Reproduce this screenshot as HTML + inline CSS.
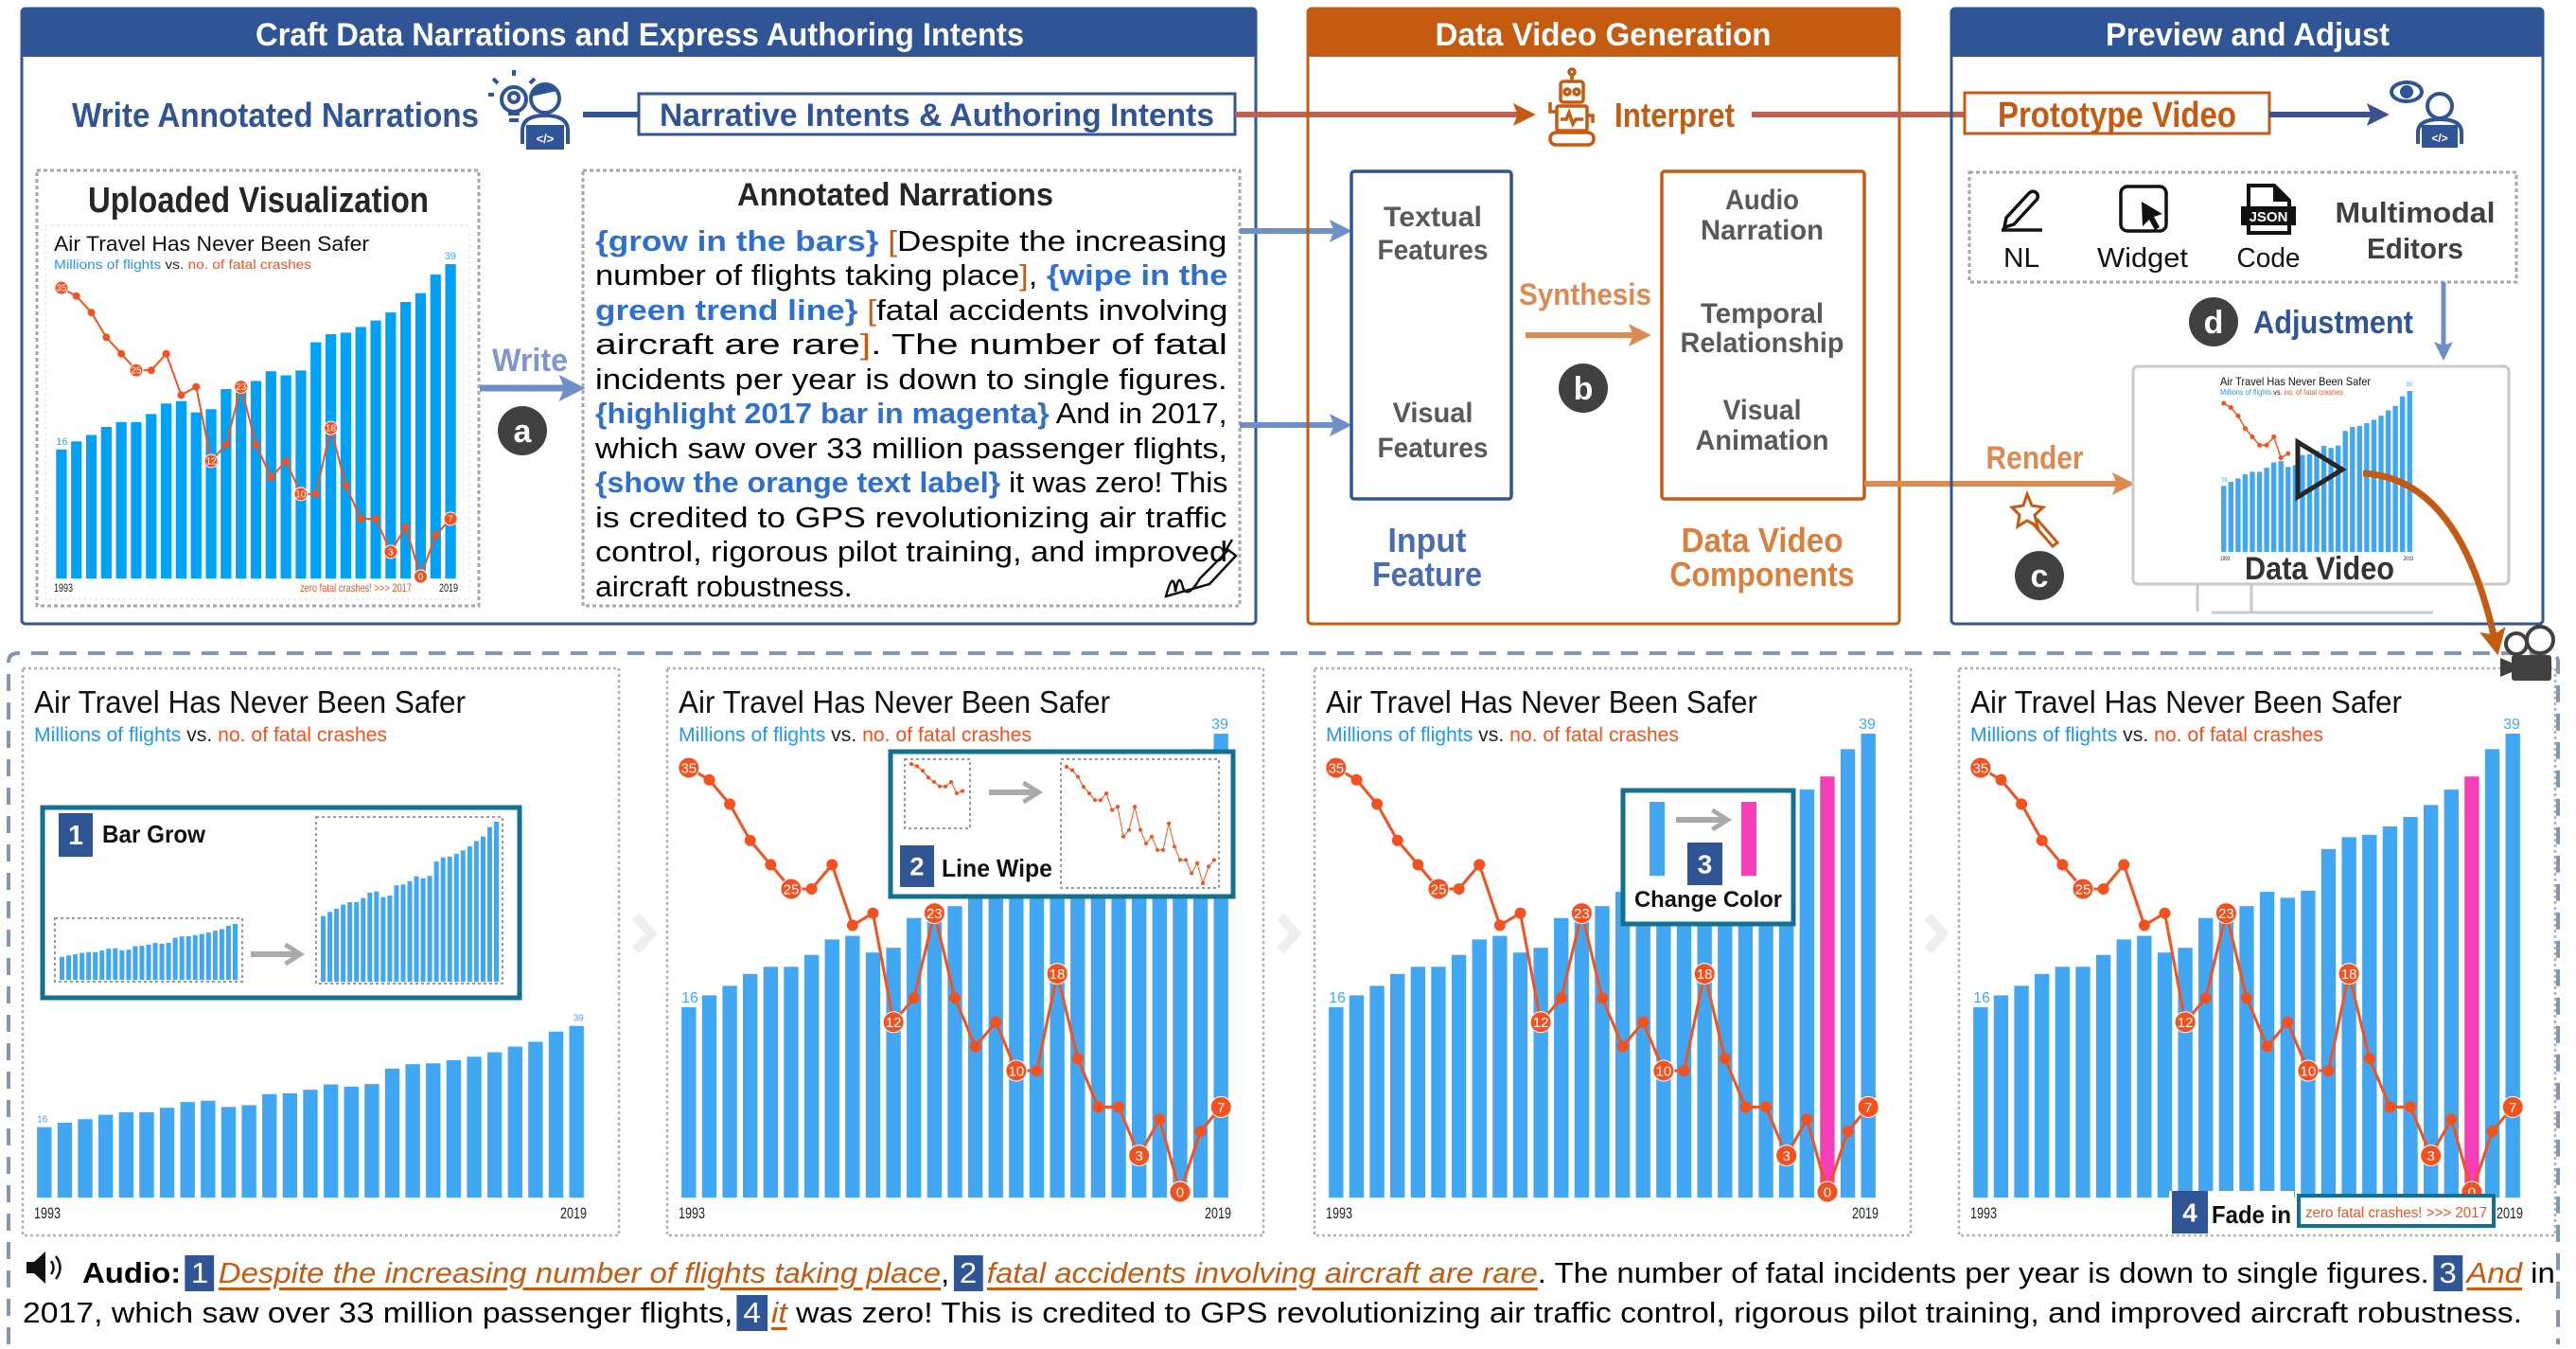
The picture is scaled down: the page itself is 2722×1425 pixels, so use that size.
<!DOCTYPE html>
<html><head><meta charset="utf-8">
<style>
html,body{margin:0;padding:0;background:#fff;}
#root{position:relative;width:2722px;height:1425px;overflow:hidden;font-family:"Liberation Sans",sans-serif;}
svg{position:absolute;left:0;top:0;}
.fit{position:absolute;white-space:nowrap;transform-origin:0 0;line-height:1;font-family:"Liberation Sans",sans-serif;}
.b{color:#2e6fd0;font-weight:bold;}
.o{color:#c55a11;}
.au{color:#c55a11;font-style:italic;text-decoration:underline;text-decoration-thickness:3px;text-underline-offset:5px;}
.bd{display:inline-block;background:#2f5597;color:#fff;padding:0 6px;line-height:38px;margin:0 4px;}
</style></head>
<body>
<div id="root">
<svg id="svg" width="2722" height="1425" viewBox="0 0 2722 1425">
<defs>
<marker id="ab" markerWidth="4" markerHeight="4" refX="2.2" refY="2" orient="auto" markerUnits="strokeWidth"><path d="M0,0 L4,2 L0,4 L0.8,2 Z" fill="#6f8fc8"/></marker>
<marker id="ad" markerWidth="4" markerHeight="4" refX="2.2" refY="2" orient="auto" markerUnits="strokeWidth"><path d="M0,0 L4,2 L0,4 L0.8,2 Z" fill="#3c4f8f"/></marker>
<marker id="ao" markerWidth="4" markerHeight="4" refX="2.2" refY="2" orient="auto" markerUnits="strokeWidth"><path d="M0,0 L4,2 L0,4 L0.8,2 Z" fill="#c55a11"/></marker>
<marker id="al" markerWidth="4" markerHeight="4" refX="2.2" refY="2" orient="auto" markerUnits="strokeWidth"><path d="M0,0 L4,2 L0,4 L0.8,2 Z" fill="#dd8a50"/></marker>
<marker id="ag" markerWidth="4" markerHeight="4" refX="2.6" refY="2" orient="auto" markerUnits="strokeWidth"><path d="M0.5,0.3 L3.2,2 L0.5,3.7" fill="none" stroke="#aaa" stroke-width="0.8"/></marker>
</defs>

<g>
<rect x="23" y="9" width="1304" height="650" rx="4" fill="#fff" stroke="#2f5597" stroke-width="3"/>
<rect x="23" y="9" width="1304" height="51" rx="3" fill="#2f5597"/>
<text x="676" y="48" text-anchor="middle" font-size="34" font-weight="bold" fill="#fff" textLength="812" lengthAdjust="spacingAndGlyphs">Craft Data Narrations and Express Authoring Intents</text>
<text x="76" y="134" font-size="36" font-weight="bold" fill="#2f5597" textLength="430" lengthAdjust="spacingAndGlyphs">Write Annotated Narrations</text>
<g fill="none" stroke="#2f5597" stroke-width="4">
<circle cx="543" cy="105" r="13"/><circle cx="543" cy="103" r="5"/><path d="M537,120 h12 M538,127 h10"/>
<path d="M522,100 h-6 M543,80 v-6 M560,88 l5,-5 M526,88 l-5,-5"/>
<circle cx="576" cy="104" r="15" fill="#fff"/><path d="M561,102 q8,-18 28,-6" fill="#2f5597"/>
<path d="M552,152 v-14 q0,-16 24,-16 q24,0 24,16 v14"/>
<rect x="556" y="132" width="40" height="26" fill="#2f5597" stroke="none"/>
<text x="576" y="151" font-size="13" fill="#fff" stroke="none" text-anchor="middle" font-weight="bold">&lt;/&gt;</text>
</g>
<line x1="616" y1="121" x2="675" y2="121" stroke="#2f5597" stroke-width="6"/>
<rect x="675" y="99" width="630" height="43" fill="#fff" stroke="#2f5597" stroke-width="3"/>
<text x="990" y="133" text-anchor="middle" font-size="34" font-weight="bold" fill="#2f5597" textLength="586" lengthAdjust="spacingAndGlyphs">Narrative Intents &amp; Authoring Intents</text>
<line x1="1305" y1="121" x2="1612" y2="121" stroke="#c0614f" stroke-width="6" marker-end="url(#ao)"/>
<rect x="39" y="180" width="467" height="460" fill="none" stroke="#a6a6a6" stroke-width="3" stroke-dasharray="4 3"/>
<text x="273" y="224" text-anchor="middle" font-size="38" font-weight="bold" fill="#262626" textLength="360" lengthAdjust="spacingAndGlyphs">Uploaded Visualization</text>
<rect x="48" y="238" width="448" height="395" fill="none" stroke="#eee" stroke-width="2" stroke-dasharray="3 3"/>
<g id="chartTop"></g>
<text x="560" y="392" text-anchor="middle" font-size="34" font-weight="bold" fill="#7f96c8" textLength="80" lengthAdjust="spacingAndGlyphs">Write</text>
<line x1="507" y1="410" x2="606" y2="410" stroke="#6f8fc8" stroke-width="7" marker-end="url(#ab)"/>
<circle cx="552" cy="455" r="26" fill="#404040"/>
<text x="552" y="467" text-anchor="middle" font-size="34" font-weight="bold" fill="#fff">a</text>
<rect x="616" y="180" width="694" height="460" fill="none" stroke="#a6a6a6" stroke-width="3" stroke-dasharray="4 3"/>
<text x="946" y="217" text-anchor="middle" font-size="34" font-weight="bold" fill="#262626" textLength="334" lengthAdjust="spacingAndGlyphs">Annotated Narrations</text>
<g fill="none" stroke="#111" stroke-width="2.5">
<path d="M1232,630 q8,-30 10,-5 q4,-22 8,-4 q5,12 18,-10 l30,-30 l8,6 l-28,30 z M1290,590 l12,-20"/>
</g>
<line x1="1310" y1="244" x2="1418" y2="244" stroke="#6f8fc8" stroke-width="6" marker-end="url(#ab)"/>
<line x1="1310" y1="449" x2="1418" y2="449" stroke="#6f8fc8" stroke-width="6" marker-end="url(#ab)"/>
</g>

<g>
<rect x="1382" y="9" width="625" height="650" rx="4" fill="none" stroke="#c55a11" stroke-width="3"/>
<rect x="1382" y="9" width="625" height="51" rx="3" fill="#c55a11"/>
<text x="1694" y="48" text-anchor="middle" font-size="34" font-weight="bold" fill="#fff" textLength="355" lengthAdjust="spacingAndGlyphs">Data Video Generation</text>
<g fill="none" stroke="#c55a11" stroke-width="3.5">
<rect x="1649" y="86" width="24" height="22" rx="3"/><circle cx="1656" cy="97" r="3"/><circle cx="1666" cy="97" r="3"/><path d="M1661,86 v-8"/><circle cx="1661" cy="76" r="3"/>
<rect x="1645" y="112" width="32" height="26" rx="2"/><path d="M1649,126 h6 l3,-7 l4,12 l3,-5 h8"/>
<path d="M1645,118 h-7 v-10 M1677,122 h6 v8"/>
<rect x="1638" y="140" width="46" height="13" rx="6"/>
</g>
<text x="1706" y="134" font-size="36" font-weight="bold" fill="#c55a11" textLength="127" lengthAdjust="spacingAndGlyphs">Interpret</text>
<line x1="1851" y1="121" x2="2075" y2="121" stroke="#c0614f" stroke-width="6"/>
<rect x="1428" y="181" width="169" height="346" rx="3" fill="none" stroke="#2f5597" stroke-width="3.5"/>
<g font-weight="bold" fill="#595959" font-size="30" text-anchor="middle">
<text x="1514" y="239" textLength="104" lengthAdjust="spacingAndGlyphs">Textual</text>
<text x="1514" y="274" textLength="117" lengthAdjust="spacingAndGlyphs">Features</text>
<text x="1514" y="446" textLength="85" lengthAdjust="spacingAndGlyphs">Visual</text>
<text x="1514" y="483" textLength="117" lengthAdjust="spacingAndGlyphs">Features</text>
<text x="1862" y="221" textLength="78" lengthAdjust="spacingAndGlyphs">Audio</text>
<text x="1862" y="253" textLength="130" lengthAdjust="spacingAndGlyphs">Narration</text>
<text x="1862" y="341" textLength="130" lengthAdjust="spacingAndGlyphs">Temporal</text>
<text x="1862" y="372" textLength="173" lengthAdjust="spacingAndGlyphs">Relationship</text>
<text x="1862" y="443" textLength="83" lengthAdjust="spacingAndGlyphs">Visual</text>
<text x="1862" y="475" textLength="141" lengthAdjust="spacingAndGlyphs">Animation</text>
</g>
<text x="1675" y="322" text-anchor="middle" font-size="32" font-weight="bold" fill="#dd8a50" textLength="140" lengthAdjust="spacingAndGlyphs">Synthesis</text>
<line x1="1612" y1="354" x2="1734" y2="354" stroke="#dd8a50" stroke-width="6" marker-end="url(#al)"/>
<circle cx="1673" cy="410" r="26" fill="#404040"/>
<text x="1673" y="422" text-anchor="middle" font-size="34" font-weight="bold" fill="#fff">b</text>
<rect x="1756" y="181" width="214" height="346" rx="3" fill="none" stroke="#c55a11" stroke-width="3.5"/>
<text x="1508" y="583" text-anchor="middle" font-size="36" font-weight="bold" fill="#4a6cb0" textLength="83" lengthAdjust="spacingAndGlyphs">Input</text>
<text x="1508" y="619" text-anchor="middle" font-size="36" font-weight="bold" fill="#4a6cb0" textLength="116" lengthAdjust="spacingAndGlyphs">Feature</text>
<text x="1862" y="583" text-anchor="middle" font-size="36" font-weight="bold" fill="#d9803f" textLength="171" lengthAdjust="spacingAndGlyphs">Data Video</text>
<text x="1862" y="619" text-anchor="middle" font-size="36" font-weight="bold" fill="#d9803f" textLength="195" lengthAdjust="spacingAndGlyphs">Components</text>
<line x1="1970" y1="511" x2="2245" y2="511" stroke="#dd8a50" stroke-width="6" marker-end="url(#al)"/>
</g>

<g>
<rect x="2062" y="9" width="625" height="650" rx="4" fill="none" stroke="#2f5597" stroke-width="3"/>
<rect x="2062" y="9" width="625" height="51" rx="3" fill="#2f5597"/>
<text x="2375" y="48" text-anchor="middle" font-size="34" font-weight="bold" fill="#fff" textLength="300" lengthAdjust="spacingAndGlyphs">Preview and Adjust</text>
<rect x="2076" y="98" width="322" height="43" fill="#fff" stroke="#c55a11" stroke-width="3"/>
<text x="2237" y="134" text-anchor="middle" font-size="38" font-weight="bold" fill="#c55a11" textLength="252" lengthAdjust="spacingAndGlyphs">Prototype Video</text>
<line x1="2398" y1="121" x2="2514" y2="121" stroke="#3c4f8f" stroke-width="6" marker-end="url(#ad)"/>
<g fill="none" stroke="#2f5597" stroke-width="4">
<ellipse cx="2543" cy="97" rx="16" ry="10"/><circle cx="2543" cy="97" r="5" fill="#2f5597"/>
<circle cx="2578" cy="112" r="13"/><path d="M2555,152 v-12 q0,-14 23,-14 q23,0 23,14 v12"/>
<rect x="2559" y="132" width="38" height="24" fill="#2f5597" stroke="none"/>
<text x="2578" y="150" font-size="12" fill="#fff" stroke="none" text-anchor="middle" font-weight="bold">&lt;/&gt;</text>
</g>
<rect x="2081" y="182" width="578" height="116" fill="none" stroke="#a6a6a6" stroke-width="3" stroke-dasharray="4 3"/>
<g fill="none" stroke="#111" stroke-width="3.5">
<path d="M2120,230 l24,-26 a5,5 0 0 1 8,7 l-24,26 l-10,3 z"/><line x1="2115" y1="243" x2="2158" y2="243"/>
</g>
<g>
<rect x="2241" y="197" width="48" height="47" rx="7" fill="none" stroke="#111" stroke-width="3.5"/>
<path d="M2263,213 l22,13 l-9,3 l6,11 l-5,3 l-6,-11 l-7,7 z" fill="#111"/>
</g>
<g>
<path d="M2374,194 h30 l17,17 v37 h-47 z" fill="#111"/><path d="M2378,198 h24 v15 h15 v31 h-39z" fill="#fff"/>
<rect x="2368" y="218" width="58" height="20" fill="#111"/>
<text x="2397" y="234" text-anchor="middle" font-size="15" font-weight="bold" fill="#fff">JSON</text>
</g>
<g font-size="29" fill="#111" text-anchor="middle">
<text x="2136" y="282" textLength="38" lengthAdjust="spacingAndGlyphs">NL</text>
<text x="2264" y="282" textLength="96" lengthAdjust="spacingAndGlyphs">Widget</text>
<text x="2397" y="282" textLength="67" lengthAdjust="spacingAndGlyphs">Code</text>
</g>
<text x="2552" y="235" text-anchor="middle" font-size="31" font-weight="bold" fill="#404040" textLength="169" lengthAdjust="spacingAndGlyphs">Multimodal</text>
<text x="2552" y="273" text-anchor="middle" font-size="31" font-weight="bold" fill="#404040" textLength="102" lengthAdjust="spacingAndGlyphs">Editors</text>
<line x1="2582" y1="298" x2="2582" y2="372" stroke="#6f8fc8" stroke-width="5" marker-end="url(#ab)"/>
<circle cx="2339" cy="340" r="26" fill="#404040"/>
<text x="2339" y="352" text-anchor="middle" font-size="34" font-weight="bold" fill="#fff">d</text>
<text x="2381" y="352" font-size="34" font-weight="bold" fill="#2f5597" textLength="169" lengthAdjust="spacingAndGlyphs">Adjustment</text>
<text x="2150" y="495" text-anchor="middle" font-size="34" font-weight="bold" fill="#dd8a50" textLength="103" lengthAdjust="spacingAndGlyphs">Render</text>
<g fill="none" stroke="#c55a11" stroke-width="3">
<path d="M2142,522 l5,12 l12,2 l-9,8 l3,12 l-11,-6 l-10,6 l2,-12 l-8,-8 l12,-2 z"/><path d="M2152,548 l22,25 l-5,4 l-22,-25"/>
</g>
<circle cx="2155" cy="608" r="26" fill="#404040"/>
<text x="2155" y="620" text-anchor="middle" font-size="34" font-weight="bold" fill="#fff">c</text>
<rect x="2254" y="387" width="397" height="230" rx="5" fill="#fff" stroke="#c8c8c8" stroke-width="3"/>
<line x1="2322" y1="617" x2="2322" y2="646" stroke="#c8c8c8" stroke-width="3"/>
<line x1="2379" y1="617" x2="2379" y2="646" stroke="#c8c8c8" stroke-width="3"/>
<line x1="2337" y1="647" x2="2571" y2="647" stroke="#c8c8c8" stroke-width="3"/>
<g id="chartMini"></g>
<path d="M2428,467 L2428,525 L2475,496 Z" fill="none" stroke="#262626" stroke-width="5"/>
<text x="2451" y="612" text-anchor="middle" font-size="34" font-weight="bold" fill="#333" textLength="158" lengthAdjust="spacingAndGlyphs">Data Video</text>
</g>

<path d="M9,1420 V700 Q9,690 19,690 H2693 Q2703,690 2703,700 V1420" fill="none" stroke="#8496b0" stroke-width="4" stroke-dasharray="18 12"/>
<g id="panels"></g>
<path d="M2497,500 Q2600,505 2637,680" fill="none" stroke="#c55a11" stroke-width="7" marker-end="url(#ao)"/>
<g fill="#404040">
<circle cx="2659" cy="680" r="11" fill="#fff" stroke="#404040" stroke-width="4"/><circle cx="2684" cy="676" r="14" fill="#fff" stroke="#404040" stroke-width="4"/>
<rect x="2654" y="692" width="42" height="27" rx="3"/><path d="M2654,700 l-12,-5 v20 l12,-5 z"/>
</g>
<g>
<path d="M28,1333 h8 l12,-11 v34 l-12,-11 h-8 z" fill="#111"/>
<path d="M54,1332 q5,7 0,14 M59,1327 q9,12 0,24" fill="none" stroke="#111" stroke-width="2.5"/>
</g>
</svg>

<div class="fit" data-w="668" style="left:629px;top:239px;font-size:31px"><span class="b">{grow in the bars}</span> <span class="o">[</span>Despite the increasing</div>
<div class="fit" data-w="668" style="left:629px;top:275px;font-size:31px">number of flights taking place<span class="o">]</span>, <span class="b">{wipe in the</span></div>
<div class="fit" data-w="668" style="left:629px;top:312px;font-size:31px"><span class="b">green trend line}</span> <span class="o">[</span>fatal accidents involving</div>
<div class="fit" data-w="668" style="left:629px;top:348px;font-size:31px">aircraft are rare<span class="o">]</span>. The number of fatal</div>
<div class="fit" data-w="668" style="left:629px;top:385px;font-size:31px">incidents per year is down to single figures.</div>
<div class="fit" data-w="668" style="left:629px;top:421px;font-size:31px"><span class="b">{highlight 2017 bar in magenta}</span> And in 2017,</div>
<div class="fit" data-w="668" style="left:629px;top:458px;font-size:31px">which saw over 33 million passenger flights,</div>
<div class="fit" data-w="668" style="left:629px;top:494px;font-size:31px"><span class="b">{show the orange text label}</span> it was zero! This</div>
<div class="fit" data-w="668" style="left:629px;top:531px;font-size:31px">is credited to GPS revolutionizing air traffic</div>
<div class="fit" data-w="668" style="left:629px;top:567px;font-size:31px">control, rigorous pilot training, and improved</div>
<div class="fit" data-w="272" style="left:629px;top:604px;font-size:31px">aircraft robustness.</div>

<div class="fit" data-w="2613" style="left:87px;top:1326px;font-size:31px"><b>Audio:</b><span class="bd">1</span><span class="au">Despite the increasing number of flights taking place</span>,<span class="bd">2</span><span class="au">fatal accidents involving aircraft are rare</span>. The number of fatal incidents per year is down to single figures.<span class="bd">3</span><span class="au">And</span> in</div>
<div class="fit" data-w="2641" style="left:24px;top:1368px;font-size:31px">2017, which saw over 33 million passenger flights,<span class="bd">4</span><span class="au">it</span> was zero! This is credited to GPS revolutionizing air traffic control, rigorous pilot training, and improved aircraft robustness.</div>
</div>

<script>
const years = [1993,1994,1995,1996,1997,1998,1999,2000,2001,2002,2003,2004,2005,2006,2007,2008,2009,2010,2011,2012,2013,2014,2015,2016,2017,2018,2019];
const flights = [16,17,17.8,18.8,19.4,19.4,20.4,21.7,22,20.6,21,23.5,23.7,24.5,25.7,25.2,25.8,29.3,30.3,30.5,31.2,32,33,34.3,35.4,37.7,39];
const crashes = [35,34,32,29,27,25,25,27,22,23,14,16,23,16,12,14,10,10,18,11,7,7,3,6,0,5,7];
const crashLabels = ["35","","","","","25","","","","","12","","23","","","","10","","18","","","","3","","0","","7"];
const flightMax = 39;
const crashMax = 35;
const highlightYear = 2017;

const NS = "http://www.w3.org/2000/svg";
function mk(tag, parent, attrs, txt) {
  const e = document.createElementNS(NS, tag);
  for (const k in attrs) e.setAttribute(k, attrs[k]);
  if (txt !== undefined) e.textContent = txt;
  parent.appendChild(e);
  return e;
}

function drawChart(g, p) {
  const n = years.length;
  const pitch = (p.R - p.L) / n;
  const bw = pitch * 0.71;
  const xb = i => p.L + i * pitch + (pitch - bw) / 2;
  const yBar = v => p.B - (v / flightMax) * (p.B - p.T39) * (p.grow || 1);
  const yLine = v => p.Y0 - (v / crashMax) * (p.Y0 - p.Y35);
  if (p.title) {
    const t = mk("text", g, {x: p.L, y: p.title[0], "font-size": p.title[1], fill: "#111", textLength: p.title[2], lengthAdjust: "spacingAndGlyphs"}, "Air Travel Has Never Been Safer");
    
    
    const s = mk("text", g, {x: p.L, y: p.sub[0], "font-size": p.sub[1], textLength: p.sub[2], lengthAdjust: "spacingAndGlyphs"});
    
    
    mk("tspan", s, {fill: "#2196f3"}, "Millions of flights");
    mk("tspan", s, {fill: "#222"}, " vs. ");
    mk("tspan", s, {fill: "#f4511e"}, "no. of fatal crashes");
  }
  if (p.bars !== false) {
    for (let i = 0; i < n; i++) {
      const y = yBar(flights[i]);
      const hl = p.highlight && years[i] === highlightYear;
      const r = mk("rect", g, {x: xb(i), y: y, width: bw, height: p.B - y, fill: hl ? "#f43fb8" : (p.barColor || "#42a7f3")});
      
      
    }
    if (p.valFs) {
      const a = mk("text", g, {x: xb(0), y: yBar(flights[0]) - 5, "font-size": p.valFs, fill: "#42a7f3"}, String(flights[0]));
      
      
      const b = mk("text", g, {x: xb(n - 1) + bw, y: yBar(flights[n - 1]) - 5, "font-size": p.valFs, fill: "#42a7f3", "text-anchor": "end"}, String(flights[n - 1]));
      
      
    }
  }
  if (p.line) {
    const cnt = Math.min(p.line, n);
    let d = "";
    for (let i = 0; i < cnt; i++) d += (i ? "L" : "M") + (xb(i) + bw / 2) + "," + yLine(crashes[i]);
    const pl = mk("path", g, {d: d, fill: "none", stroke: "#f4511e", "stroke-width": p.sw});
    
    
    for (let i = 0; i < cnt; i++) {
      const lab = p.labFs && crashLabels[i];
      const c = mk("circle", g, {cx: xb(i) + bw / 2, cy: yLine(crashes[i]), r: lab ? p.labR : p.dotR, fill: "#f4511e", stroke: "#fff", "stroke-width": lab ? 1 : 0});
      
      
      if (lab) {
        const tl = mk("text", g, {x: xb(i) + bw / 2, y: yLine(crashes[i]) + p.labFs * 0.36, "font-size": p.labFs, fill: "#fff", "text-anchor": "middle"}, crashLabels[i]);
        
        
      }
    }
  }
  if (p.yearY) {
    const yl = p.yearLen || p.yearFs * 1.75;
    const y1 = mk("text", g, {x: p.L, y: p.yearY, "font-size": p.yearFs, fill: "#222", textLength: yl, lengthAdjust: "spacingAndGlyphs"}, String(years[0]));
    
    
    const y2 = mk("text", g, {x: p.R - yl, y: p.yearY, "font-size": p.yearFs, fill: "#222", textLength: yl, lengthAdjust: "spacingAndGlyphs"}, String(years[n - 1]));
    
    
  }
}

const gTop = document.getElementById("chartTop");
drawChart(gTop, {L: 57, R: 484, B: 611, T39: 279, Y35: 304, Y0: 609, title: [265, 22, 333], sub: [284, 14, 272], barColor: "#00a2f5", line: 27, sw: 2, dotR: 4, labR: 7, labFs: 10, valFs: 11, yearY: 625, yearFs: 12, yearLen: 20});
const zt = mk("text", gTop, {x: 317, y: 625, "font-size": 12, fill: "#f4511e", textLength: 118, lengthAdjust: "spacingAndGlyphs"}, "zero fatal crashes! >>> 2017");



drawChart(document.getElementById("chartMini"), {L: 2346, R: 2550, B: 583, T39: 413, Y35: 426, Y0: 581, title: [407, 12, 159], sub: [417, 8, 130], line: 10, sw: 1.5, dotR: 2.5, labR: 4, yearY: 592, yearFs: 6, valFs: 6});

const panelsG = document.getElementById("panels");
const panelX = [24, 705, 1389, 2070];
const PY = 706;
for (let k = 0; k < 4; k++) {
  const px = panelX[k];
  const g = mk("g", panelsG, {});
  
  
  mk("rect", g, {x: px, y: PY, width: 630, height: 599, fill: "#fff", stroke: "#b0b0b0", "stroke-width": 2.5, "stroke-dasharray": "3 3"});
  const full = {L: px + 12, R: px + 596, B: PY + 559, T39: PY + 69, Y35: PY + 105, Y0: PY + 553, title: [PY + 47, 33, 456], sub: [PY + 77, 21, 373], sw: 3, dotR: 6, labR: 11, labFs: 15, valFs: 16, yearY: PY + 581, yearFs: 17, yearLen: 28};
  if (k === 0) { full.grow = 0.37; full.line = 0; full.valFs = 10; }
  else { full.line = 27; full.highlight = k >= 2; }
  drawChart(g, full);
  if (k < 3) {
    const ch = mk("path", panelsG, {d: "M" + (px + 648) + ",968 l16,18 l-16,18", fill: "none", stroke: "#eeeeee", "stroke-width": 10});
    
    
  }
}

function badge(parent, x, y, w, h, num, name) {
  const r = mk("rect", parent, {x: x, y: y, width: w, height: h, fill: "#2f5597"});
  
  
  mk("text", parent, {x: x + w / 2, y: y + h * 0.72, "font-size": h * 0.62, "font-weight": "bold", fill: "#fff", "text-anchor": "middle"}, num);
}
function arrowG(parent, x1, x2, y) {
  const a = mk("line", parent, {x1: x1, y1: y, x2: x2, y2: y, stroke: "#aaa", "stroke-width": 6, "marker-end": "url(#ag)"});
  
  
}

const in1 = mk("g", panelsG, {});


mk("rect", in1, {x: 45, y: 853, width: 504, height: 201, fill: "#fff", stroke: "#14708f", "stroke-width": 5});
badge(in1, 62, 859, 36, 46, "1", "step-1-badge");
mk("text", in1, {x: 108, y: 890, "font-size": 26, "font-weight": "bold", fill: "#111", textLength: 109, lengthAdjust: "spacingAndGlyphs"}, "Bar Grow");
mk("rect", in1, {x: 58, y: 970, width: 198, height: 67, fill: "none", stroke: "#999", "stroke-width": 2, "stroke-dasharray": "3 3"});
drawChart(in1, {L: 62, R: 252, B: 1035, T39: 976, bars: true});
arrowG(in1, 265, 314, 1008);
mk("rect", in1, {x: 334, y: 863, width: 197, height: 176, fill: "none", stroke: "#999", "stroke-width": 2, "stroke-dasharray": "3 3"});
drawChart(in1, {L: 338, R: 528, B: 1037, T39: 868});

const in2 = mk("g", panelsG, {});


mk("rect", in2, {x: 941, y: 794, width: 362, height: 153, fill: "#fff", stroke: "#14708f", "stroke-width": 5});
mk("rect", in2, {x: 956, y: 802, width: 69, height: 73, fill: "none", stroke: "#999", "stroke-width": 2, "stroke-dasharray": "3 3"});
drawChart(in2, {L: 960, R: 1122, Y35: 807, Y0: 890, bars: false, line: 10, sw: 1, dotR: 2});
arrowG(in2, 1045, 1094, 837);
mk("rect", in2, {x: 1121, y: 802, width: 167, height: 136, fill: "none", stroke: "#999", "stroke-width": 2, "stroke-dasharray": "3 3"});
drawChart(in2, {L: 1124, R: 1286, Y35: 810, Y0: 933, bars: false, line: 27, sw: 1, dotR: 2});
badge(in2, 951, 893, 36, 44, "2", "step-2-badge");
mk("text", in2, {x: 995, y: 926, "font-size": 26, "font-weight": "bold", fill: "#111", textLength: 117, lengthAdjust: "spacingAndGlyphs"}, "Line Wipe");

const in3 = mk("g", panelsG, {});


mk("rect", in3, {x: 1715, y: 835, width: 180, height: 141, fill: "#fff", stroke: "#14708f", "stroke-width": 5});
mk("rect", in3, {x: 1743, y: 847, width: 16, height: 78, fill: "#42a7f3"});
mk("rect", in3, {x: 1840, y: 847, width: 16, height: 78, fill: "#f43fb8"});
arrowG(in3, 1771, 1822, 866);
badge(in3, 1783, 890, 37, 45, "3", "step-3-badge");
mk("text", in3, {x: 1805, y: 958, "font-size": 24, "font-weight": "bold", fill: "#111", "text-anchor": "middle", textLength: 156, lengthAdjust: "spacingAndGlyphs"}, "Change Color");

const in4 = mk("g", panelsG, {});


mk("rect", in4, {x: 2292, y: 1258, width: 132, height: 46, fill: "#fff"});
badge(in4, 2295, 1258, 38, 45, "4", "step-4-badge");
mk("text", in4, {x: 2337, y: 1292, "font-size": 26, "font-weight": "bold", fill: "#111", textLength: 84, lengthAdjust: "spacingAndGlyphs"}, "Fade in");
mk("rect", in4, {x: 2429, y: 1263, width: 206, height: 32, fill: "#fff", stroke: "#14708f", "stroke-width": 4});
mk("text", in4, {x: 2436, y: 1286, "font-size": 16, fill: "#f4511e", textLength: 192, lengthAdjust: "spacingAndGlyphs"}, "zero fatal crashes! >>> 2017");

document.querySelectorAll(".fit").forEach(el => {
  const w = +el.getAttribute("data-w");
  const sw = el.scrollWidth;
  if (sw > 0) el.style.transform = "scaleX(" + (w / sw) + ")";
});
</script>
</body></html>
